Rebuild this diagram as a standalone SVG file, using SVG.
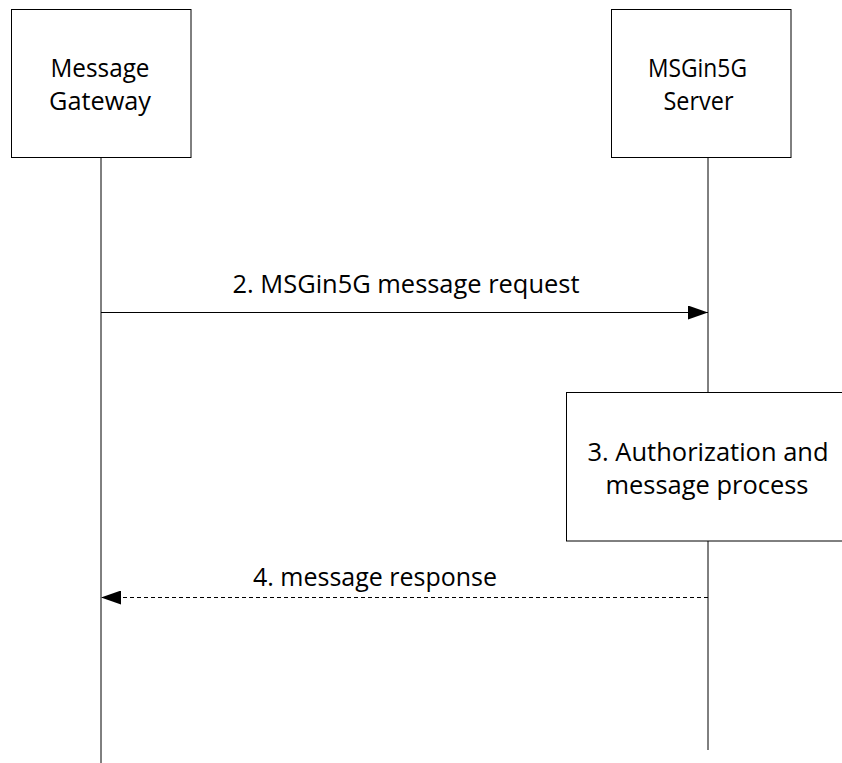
<svg xmlns="http://www.w3.org/2000/svg" width="842" height="763" viewBox="0 0 842 763">
  <style>
    .box { fill: #ffffff; stroke: #000000; stroke-width: 1; }
    .life { stroke: #000000; stroke-width: 1; fill: none; }
    .msg { stroke: #000000; stroke-width: 1; fill: none; }
    .dash { stroke-dasharray: 4 3; }
    text { font-family: "Open Sans", "Liberation Sans", sans-serif; font-size: 26px; fill: #000000; text-anchor: middle; }
  </style>
  <defs>
    <marker id="arrow" markerUnits="userSpaceOnUse" markerWidth="20" markerHeight="14" refX="20" refY="7" orient="auto" viewBox="0 0 20 14">
      <path d="M0,0 L20,7 L0,14 Z" fill="#000000"/>
    </marker>
  </defs>
  <rect width="842" height="763" fill="#ffffff"/>

  <g id="connectors">
    <line id="lifeline-gateway" class="life" x1="101" y1="157.5" x2="101" y2="763"/>
    <line id="lifeline-server-top" class="life" x1="708" y1="157.5" x2="708" y2="392.5"/>
    <line id="lifeline-server-bottom" class="life" x1="708" y1="541" x2="708" y2="750"/>
    <g id="msg2">
      <line class="msg" x1="101" y1="312.5" x2="708" y2="312.5" marker-end="url(#arrow)"/>
      <text x="406" y="293" textLength="347" lengthAdjust="spacingAndGlyphs">2. MSGin5G message request</text>
    </g>
    <g id="msg4">
      <line class="msg dash" x1="708" y1="597.5" x2="101" y2="597.5" marker-end="url(#arrow)"/>
      <text x="375" y="586" textLength="244" lengthAdjust="spacingAndGlyphs">4. message response</text>
    </g>
  </g>

  <g id="node-gateway">
    <rect class="box" x="11.5" y="9.5" width="179.5" height="148"/>
    <text x="100" y="77" textLength="99" lengthAdjust="spacingAndGlyphs">Message</text>
    <text x="100" y="110" textLength="102" lengthAdjust="spacingAndGlyphs">Gateway</text>
  </g>

  <g id="node-server">
    <rect class="box" x="611.5" y="9.5" width="179.5" height="148"/>
    <text x="697.5" y="77" textLength="99" lengthAdjust="spacingAndGlyphs">MSGin5G</text>
    <text x="698.5" y="110" textLength="70" lengthAdjust="spacingAndGlyphs">Server</text>
  </g>

  <g id="node-process">
    <rect class="box" x="566.5" y="392.5" width="290" height="148.5"/>
    <text x="708" y="461" textLength="241" lengthAdjust="spacingAndGlyphs">3. Authorization and</text>
    <text x="707" y="494" textLength="203" lengthAdjust="spacingAndGlyphs">message process</text>
  </g>
</svg>
